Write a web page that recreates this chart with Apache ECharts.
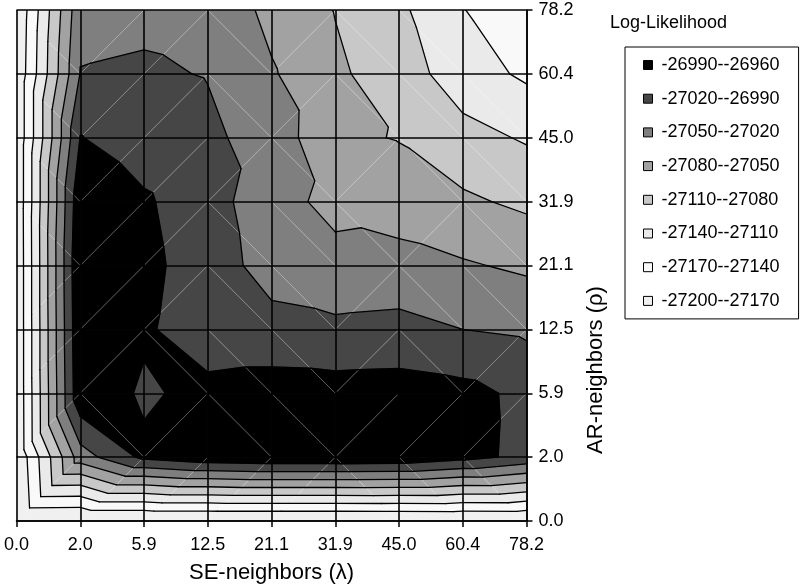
<!DOCTYPE html>
<html><head><meta charset="utf-8">
<script src="https://cdn.jsdelivr.net/npm/echarts@6/dist/echarts.min.js"></script>
<style>html,body{margin:0;padding:0;background:#fff}#c{width:801px;height:585px}</style>
</head><body><div id="c"></div>
<script>
// axis categories
const seLabels = ['0.0','2.0','5.9','12.5','21.1','31.9','45.0','60.4','78.2'];
const arLabels = ['0.0','2.0','5.9','12.5','21.1','31.9','45.0','60.4','78.2'];
// log-likelihood, one row per AR-neighbors value (bottom to top), columns = SE-neighbors
const ar00 = [-27205,-27207,-27207,-27207,-27207,-27207,-27206,-27205,-27204];
const ar02 = [-27197,-27034,-26983,-26970,-26965,-26965,-26967,-26980,-26998];
const ar06 = [-27196,-26965,-26995,-26980,-26976,-26977,-26976,-26981,-26997];
const ar12 = [-27196,-26962,-26985,-27010,-27010,-27014,-27012,-27020,-27025];
const ar21 = [-27196,-26960,-26982,-27005,-27032,-27040,-27037,-27047,-27055];
const ar32 = [-27195,-26966,-26986,-27008,-27038,-27059,-27068,-27075,-27086];
const ar45 = [-27195,-26989,-27005,-27015,-27031,-27076,-27081,-27100,-27113];
const ar60 = [-27195,-27019,-27017,-27021,-27047,-27075,-27095,-27126,-27145];
const ar78 = [-27198,-27028,-27025,-27027,-27058,-27081,-27104,-27139,-27160];
const grid = [ar00, ar02, ar06, ar12, ar21, ar32, ar45, ar60, ar78];
// contour band limits and legend
const levels = [-27200,-27170,-27140,-27110,-27080,-27050,-27020,-26990,-26960];
const bandColors = ['#f0f0f0','#f9f9f9','#eaeaea','#c8c8c8','#a2a2a2','#7f7f7f','#464646','#000000'];
const bandNames = bandColors.map((c,k)=> levels[k] + '-' + levels[k+1]);
const lineLevels = levels.slice(1, 8);

const FONT = "'Liberation Sans', Arial, sans-serif";
const cells = [];
for (let j = 0; j < arLabels.length - 1; j++)
  for (let i = 0; i < seLabels.length - 1; i++) cells.push([i, j]);

function cellTriangles(api, i, j) {
  const P = (a, b) => { const c = api.coord([a, b]); return {x: c[0], y: c[1], v: grid[b][a]}; };
  const a = P(i, j), b = P(i + 1, j), c = P(i + 1, j + 1), d = P(i, j + 1);
  if (a.v + c.v >= b.v + d.v) return {tris: [[a, b, c], [a, c, d]], diag: [a, c]};
  return {tris: [[a, b, d], [b, c, d]], diag: [b, d]};
}
function clip(poly, level, keepAbove) {
  const out = [], n = poly.length;
  for (let k = 0; k < n; k++) {
    const a = poly[k], b = poly[(k + 1) % n];
    const ina = keepAbove ? a.v >= level : a.v <= level;
    const inb = keepAbove ? b.v >= level : b.v <= level;
    if (ina) out.push(a);
    if (ina !== inb) {
      const t = (level - a.v) / (b.v - a.v);
      out.push({x: a.x + t * (b.x - a.x), y: a.y + t * (b.y - a.y), v: level});
    }
  }
  return out;
}
function renderFill(params, api) {
  const i = api.value(0), j = api.value(1);
  const ct = cellTriangles(api, i, j);
  const children = [];
  ct.tris.forEach(t => {
    for (let k = 0; k < bandColors.length; k++) {
      const lo = k === 0 ? -Infinity : levels[k];
      const hi = k === bandColors.length - 1 ? Infinity : levels[k + 1];
      let poly = clip(t, lo, true); if (poly.length < 3) continue;
      poly = clip(poly, hi, false); if (poly.length < 3) continue;
      children.push({type: 'polygon', silent: true, shape: {points: poly.map(p => [p.x, p.y])},
        style: {fill: bandColors[k], stroke: bandColors[k], lineWidth: 0.6}});
    }
  });
  const d = ct.diag;
  children.push({type: 'line', silent: true, shape: {x1: d[0].x, y1: d[0].y, x2: d[1].x, y2: d[1].y},
    style: {stroke: 'rgba(255,255,255,0.33)', lineWidth: 1}});
  return {type: 'group', children};
}
function renderLines(params, api) {
  const i = api.value(0), j = api.value(1);
  const ct = cellTriangles(api, i, j);
  const children = [];
  ct.tris.forEach(t => {
    lineLevels.forEach(L => {
      const pts = [];
      for (let e = 0; e < 3; e++) {
        const p = t[e], q = t[(e + 1) % 3];
        if ((p.v < L && q.v >= L) || (p.v >= L && q.v < L)) {
          const s = (L - p.v) / (q.v - p.v);
          pts.push([p.x + s * (q.x - p.x), p.y + s * (q.y - p.y)]);
        }
      }
      if (pts.length === 2) children.push({type: 'line', silent: true,
        shape: {x1: pts[0][0], y1: pts[0][1], x2: pts[1][0], y2: pts[1][1]},
        style: {stroke: '#000', lineWidth: 1.3, lineCap: 'round'}});
    });
  });
  return {type: 'group', children};
}

const legendSeries = bandNames.map((n, k) => ({name: n, type: 'scatter', data: [],
  itemStyle: {color: bandColors[k], opacity: 1}}));
const axisCommon = {
  type: 'category', boundaryGap: false, z: 5,
  axisLine: {show: true, lineStyle: {color: '#000', width: 1.5}},
  axisTick: {show: true, inside: false, length: 6, lineStyle: {color: '#000', width: 1.5}},
  splitLine: {show: true, lineStyle: {color: '#000', width: 1.6}},
  axisLabel: {color: '#000', fontSize: 18, fontFamily: FONT}
};
const chart = echarts.init(document.getElementById('c'), null, {renderer: 'canvas'});
chart.setOption({
  animation: false,
  backgroundColor: '#fff',
  title: {text: 'Log-Likelihood', left: 605, top: 9, textStyle: {fontSize: 18, fontWeight: 'normal', color: '#000', fontFamily: FONT}},
  legend: {
    data: bandNames.slice().reverse(), orient: 'vertical', left: 625, top: 47,
    icon: 'rect', itemWidth: 9, itemHeight: 9, itemGap: 13.7,
    padding: [8, 19, 8, 18], borderColor: '#000', borderWidth: 1,
    itemStyle: {borderColor: '#000', borderWidth: 1, opacity: 1},
    textStyle: {fontSize: 18, color: '#000', fontFamily: FONT, lineHeight: 20, padding: [0, 0, 0, 4]},
    selectedMode: false
  },
  grid: {left: 16.5, right: 274.5, top: 10, bottom: 64},
  xAxis: Object.assign({}, axisCommon, {data: seLabels, position: 'bottom',
    axisLabel: Object.assign({}, axisCommon.axisLabel, {margin: 15})}),
  yAxis: Object.assign({}, axisCommon, {data: arLabels, position: 'right',
    axisLabel: Object.assign({}, axisCommon.axisLabel, {margin: 12})}),
  graphic: [
    {type: 'text', x: 271.5, y: 573, style: {text: 'SE-neighbors (λ)', fontSize: 22, fontFamily: FONT, fill: '#000', textAlign: 'center', textVerticalAlign: 'middle'}},
    {type: 'text', x: 596, y: 370, rotation: Math.PI / 2, style: {text: 'AR-neighbors (ρ)', fontSize: 22, fontFamily: FONT, fill: '#000', textAlign: 'center', textVerticalAlign: 'middle'}}
  ],
  series: [
    {type: 'custom', name: 'fill', z: 1, data: cells, renderItem: renderFill, silent: true, clip: true},
    {type: 'custom', name: 'contours', z: 2, data: cells, renderItem: renderLines, silent: true, clip: true}
  ].concat(legendSeries)
});
</script></body></html>
